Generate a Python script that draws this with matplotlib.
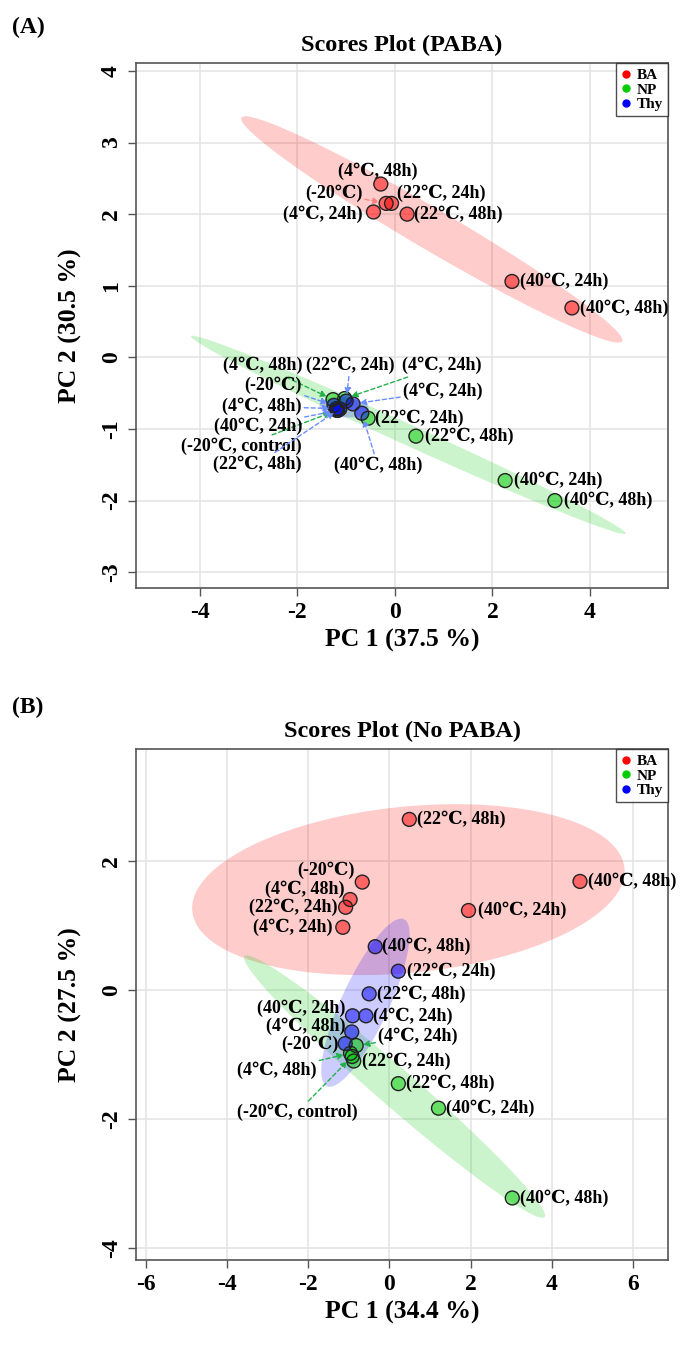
import numpy as np
import matplotlib
matplotlib.use('Agg')
import matplotlib.pyplot as plt
from matplotlib.lines import Line2D

plt.rcParams['font.family'] = ['Liberation Serif', 'DejaVu Serif', 'DejaVu Sans']
plt.rcParams['font.weight'] = 'bold'
plt.rcParams['axes.unicode_minus'] = False

groups = ['BA', 'NP', 'Thy']
colors = {'BA': '#FF0000', 'NP': '#00CC00', 'Thy': '#0000FF'}

# ---- Panel A: with PABA ----
a_ba_lab = ['(4℃, 48h)', '(-20℃)', '(22℃, 24h)', '(4℃, 24h)', '(22℃, 48h)', '(40℃, 24h)', '(40℃, 48h)']
a_ba_x = [-0.29, -0.18, -0.07, -0.44, 0.25, 2.40, 3.63]
a_ba_y = [2.42, 2.15, 2.15, 2.03, 2.00, 1.06, 0.69]

a_np_lab = ['(4℃, 48h)', '(4℃, 24h)', '(-20℃, control)', '(22℃, 24h)', '(22℃, 48h)', '(40℃, 24h)', '(40℃, 48h)']
a_np_x = [-1.27, -1.03, -1.19, -0.55, 0.43, 2.26, 3.28]
a_np_y = [-0.59, -0.575, -0.74, -0.85, -1.10, -1.72, -2.00]

a_thy_lab = ['(-20℃)', '(4℃, 48h)', '(40℃, 24h)', '(22℃, 48h)', '(22℃, 24h)', '(4℃, 24h)', '(40℃, 48h)']
a_thy_x = [-1.25, -1.20, -1.17, -1.13, -1.00, -0.86, -0.68]
a_thy_y = [-0.67, -0.715, -0.74, -0.72, -0.61, -0.65, -0.78]

# ---- Panel B: no PABA ----
b_ba_lab = ['(22℃, 48h)', '(-20℃)', '(4℃, 48h)', '(22℃, 24h)', '(4℃, 24h)', '(40℃, 24h)', '(40℃, 48h)']
b_ba_x = [0.49, -0.67, -0.97, -1.08, -1.15, 1.95, 4.70]
b_ba_y = [2.64, 1.67, 1.40, 1.28, 0.97, 1.23, 1.68]

b_np_lab = ['(4℃, 24h)', '(4℃, 48h)', '(-20℃, control)', '(22℃, 24h)', '(22℃, 48h)', '(40℃, 24h)', '(40℃, 48h)']
b_np_x = [-0.82, -0.96, -0.92, -0.88, 0.22, 1.21, 3.03]
b_np_y = [-0.86, -0.98, -1.03, -1.10, -1.45, -1.83, -3.22]

b_thy_lab = ['(40℃, 48h)', '(22℃, 24h)', '(22℃, 48h)', '(40℃, 24h)', '(4℃, 24h)', '(4℃, 48h)', '(-20℃)']
b_thy_x = [-0.35, 0.22, -0.50, -0.91, -0.58, -0.93, -1.09]
b_thy_y = [0.67, 0.29, -0.06, -0.40, -0.40, -0.65, -0.83]

# label placement (pixel offsets from the point, alignment, arrow colour)
arrow_cols = {'r': '#FF8080', 'g': '#22B14C', 'b': '#6A8CFF'}
place_a = {
    'BA': [(-3, 13, 'center', None), (-24, 10, 'right', 'r'), (5, 10, 'left', None),
           (-11, -2, 'right', None), (7, 0, 'left', None), (8, 0, 'left', None), (8, 0, 'left', None)],
    'NP': [(-31, 34, 'right', 'g'), (57, 33, 'left', 'g'), (-35, -36, 'right', 'g'),
           (7, 0, 'left', None), (9, 0, 'left', None), (9, 0, 'left', None), (9, 0, 'left', None)],
    'Thy': [(-32, 20, 'right', 'b'), (-35, 2, 'right', 'b'), (-36, -16, 'right', 'b'),
            (-38, -55, 'right', 'b'), (4, 36, 'center', 'b'), (50, 13, 'left', 'b'), (16, -52, 'center', 'b')],
}
place_b = {
    'BA': [(8, 0, 'left', None), (-8, 12, 'right', None), (-6, 10, 'right', None),
           (-8, 0, 'right', None), (-10, 0, 'right', None), (10, 0, 'left', None), (8, 0, 'left', None)],
    'NP': [(22, 9, 'left', 'g'), (-34, -17, 'right', 'g'), (-55, -56, 'center', 'g'),
           (8, 0, 'left', None), (8, 0, 'left', None), (8, 0, 'left', None), (8, 0, 'left', None)],
    'Thy': [(7, 0, 'left', None), (9, 0, 'left', None), (8, 0, 'left', None), (-7, 8, 'right', None),
            (7, 0, 'left', None), (-6, 6, 'right', None), (-7, -1, 'right', None)],
}


def conf_ellipse(x, y, level=0.95, n=200):
    x = np.asarray(x); y = np.asarray(y)
    cov = np.cov(x, y)
    vals, vecs = np.linalg.eigh(cov)
    t = np.sqrt(-2 * np.log(1 - level))
    th = np.linspace(0, 2 * np.pi, n)
    circ = np.vstack([np.cos(th), np.sin(th)])
    pts = vecs @ (np.sqrt(vals)[:, None] * circ) * t
    return pts[0] + x.mean(), pts[1] + y.mean()


def panel(ax, data, place, xlim, ylim, xticks, yticks, xlabel, ylabel):
    for g in groups:
        ex, ey = conf_ellipse(data[g][1], data[g][2])
        ax.fill(ex, ey, color=colors[g], alpha=0.2, lw=0, zorder=1)
    for g in groups:
        labs, xs, ys = data[g]
        ax.scatter(xs, ys, s=100, facecolor=colors[g], alpha=0.5, edgecolor='none', zorder=3)
        ax.scatter(xs, ys, s=100, facecolor='none', edgecolor='#222222', lw=1.0, zorder=4)
        for lab, px, py, (dx, dy, ha, arr) in zip(labs, xs, ys, place[g]):
            kw = {}
            if arr:
                kw['arrowprops'] = dict(arrowstyle='-|>', linestyle=(0, (3, 2)), color=arrow_cols[arr],
                                        lw=1.0, mutation_scale=9, shrinkA=0, shrinkB=5)
            ax.annotate(lab, (px, py), xytext=(dx, dy), textcoords='offset pixels',
                        ha=ha, va='center', fontsize=13, fontweight='bold', zorder=5, **kw)
    ax.set_xlim(*xlim)
    ax.set_ylim(*ylim)
    ax.set_xticks(xticks)
    ax.set_yticks(yticks)
    ax.grid(True, color='#E3E3E3', lw=1.1, zorder=0)
    ax.set_axisbelow(True)
    for s in ax.spines.values():
        s.set_color('#555555')
        s.set_linewidth(1.2)
    ax.tick_params(direction='out', length=6, width=1, color='#555555', labelsize=17, pad=4)
    for t in ax.get_yticklabels():
        t.set_rotation(90)
        t.set_va('center')
        t.set_fontweight('bold')
    for t in ax.get_xticklabels():
        t.set_fontweight('bold')
    ax.set_xlabel(xlabel, fontsize=18.5, fontweight='bold')
    ax.set_ylabel(ylabel, fontsize=18.5, fontweight='bold')
    handles = [Line2D([], [], marker='o', ls='none', color=colors[g], markersize=5) for g in groups]
    leg = ax.legend(handles, groups, loc='upper right', borderaxespad=0, fancybox=False,
                    handlelength=0.6, handletextpad=0.4, borderpad=0.35, labelspacing=0.05,
                    prop={'family': ['Liberation Serif'], 'weight': 'bold', 'size': 11})
    leg.get_frame().set_edgecolor('#222222')
    leg.get_frame().set_linewidth(1.0)
    leg.set_zorder(6)


W, H = 681, 1352
fig = plt.figure(figsize=(W / 100, H / 100), dpi=100)
fig.patch.set_facecolor('white')

axA = fig.add_axes([136 / W, 1 - 588 / H, 532 / W, 525 / H])
axB = fig.add_axes([136 / W, 1 - 1260 / H, 532 / W, 511 / H])

data_a = {'BA': (a_ba_lab, a_ba_x, a_ba_y), 'NP': (a_np_lab, a_np_x, a_np_y),
          'Thy': (a_thy_lab, a_thy_x, a_thy_y)}
data_b = {'BA': (b_ba_lab, b_ba_x, b_ba_y), 'NP': (b_np_lab, b_np_x, b_np_y),
          'Thy': (b_thy_lab, b_thy_x, b_thy_y)}

panel(axA, data_a, place_a, (-5.31, 5.60), (-3.22, 4.11), [-4, -2, 0, 2, 4],
      [-3, -2, -1, 0, 1, 2, 3, 4], 'PC 1 (37.5 %)', 'PC 2 (30.5 %)')
panel(axB, data_b, place_b, (-6.25, 6.87), (-4.18, 3.73), [-6, -4, -2, 0, 2, 4, 6],
      [-4, -2, 0, 2], 'PC 1 (34.4 %)', 'PC 2 (27.5 %)')

for ax, h in ((axA, 525), (axB, 511)):
    ax.xaxis.set_label_coords(0.5, -52 / h)
    ax.xaxis.label.set_va('center')
    ax.yaxis.set_label_coords(-66 / 532, 0.5)
    ax.yaxis.label.set_va('center')

fig.text(12 / W, 1 - 27 / H, '(A)', ha='left', va='center', fontsize=17, fontweight='bold')
fig.text(402 / W, 1 - 45 / H, 'Scores Plot (PABA)', ha='center', va='center', fontsize=17.5, fontweight='bold')
fig.text(12 / W, 1 - 707 / H, '(B)', ha='left', va='center', fontsize=17, fontweight='bold')
fig.text(402 / W, 1 - 731 / H, 'Scores Plot (No PABA)', ha='center', va='center', fontsize=17.5, fontweight='bold')

fig.savefig('out.png', dpi=100)
